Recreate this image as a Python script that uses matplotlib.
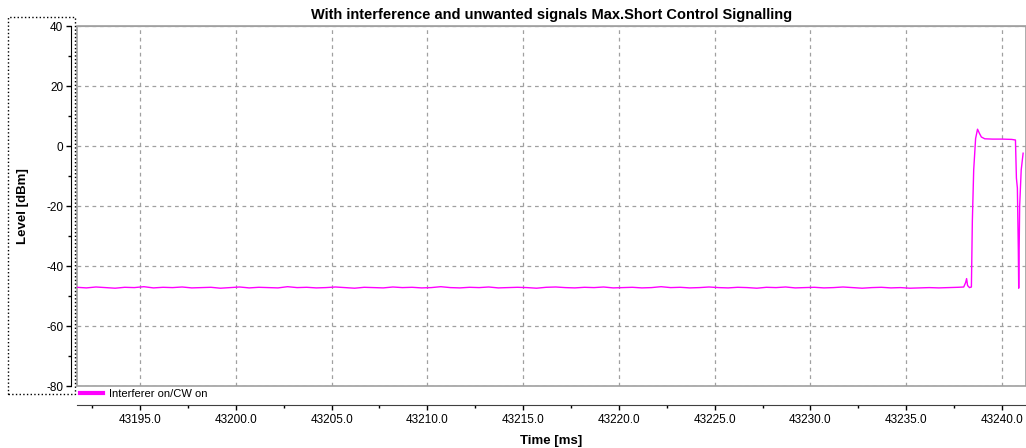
import numpy as np
import matplotlib
matplotlib.use("Agg")
import matplotlib.pyplot as plt
from matplotlib.patches import Rectangle
from matplotlib.ticker import MultipleLocator, FormatStrFormatter

plt.rcParams["font.family"] = ["Liberation Sans", "DejaVu Sans"]
plt.rcParams["axes.unicode_minus"] = False

# baseline samples every 0.5 ms before the burst
base_start = 43191.7
base_step = 0.5
base_levels = [
    -47.1, -47.3, -47.0, -47.2, -47.4, -47.1, -47.2, -46.9, -47.3, -47.1,
    -47.2, -47.0, -47.3, -47.2, -47.1, -47.4, -47.2, -47.0, -47.3, -47.1,
    -47.2, -47.3, -46.9, -47.2, -47.1, -47.3, -47.2, -47.0, -47.2, -47.4,
    -47.1, -47.2, -47.3, -47.0, -47.2, -47.1, -47.3, -47.2, -46.9, -47.2,
    -47.3, -47.1, -47.2, -47.0, -47.3, -47.2, -47.1, -47.2, -47.4, -47.1,
    -47.0, -47.2, -47.3, -47.1, -47.2, -47.0, -47.3, -47.2, -47.1, -47.3,
    -47.2, -46.9, -47.2, -47.1, -47.3, -47.2, -47.0, -47.2, -47.3, -47.1,
    -47.2, -47.4, -47.1, -47.2, -47.0, -47.3, -47.2, -47.1, -47.3, -47.2,
    -47.0, -47.2, -47.4, -47.2, -47.1, -47.3, -47.2, -47.4, -47.3, -47.2,
    -47.3, -47.2, -47.1,
]

# burst region
tail_times = [
    43238.0, 43238.1, 43238.15, 43238.2, 43238.3, 43238.4, 43238.45,
    43238.52, 43238.62, 43238.72, 43238.82, 43238.92, 43239.1, 43239.5,
    43240.0, 43240.5, 43240.7, 43240.75, 43240.8, 43240.85, 43240.87,
    43240.92, 43241.0, 43241.1,
]
tail_levels = [
    -47.0, -45.5, -44.2, -46.5, -47.2, -47.0, -25.0,
    -8.0, 2.5, 5.6, 4.2, 3.0, 2.4, 2.3,
    2.3, 2.2, 2.0, -10.7, -14.0, -35.0, -47.4,
    -20.0, -8.0, -2.4,
]

base_times = base_start + base_step * np.arange(len(base_levels))
times = np.concatenate([base_times, tail_times])
levels = np.concatenate([base_levels, tail_levels])

W, H = 1026, 448
PT = 0.72  # points per pixel at 100 dpi
fig = plt.figure(figsize=(W / 100, H / 100), dpi=100)
ax = fig.add_axes([77 / W, 1 - 386 / H, (W - 77) / W, 360 / H])

ax.plot(times, levels, color="#ff00ff", lw=1.0, label="Interferer on/CW on")

ax.set_xlim(43191.71, 43191.71 + (W - 77) / 19.156)
ax.set_ylim(-80, 40)

ax.xaxis.set_major_locator(MultipleLocator(5))
ax.xaxis.set_minor_locator(MultipleLocator(2.5))
ax.xaxis.set_major_formatter(FormatStrFormatter("%.1f"))
ax.yaxis.set_major_locator(MultipleLocator(20))
ax.yaxis.set_minor_locator(MultipleLocator(10))

ax.grid(True, which="major", color="#a0a0a0", ls=(0, (3, 3)), lw=0.9)

for s in ["top", "right"]:
    ax.spines[s].set_color("#a0a0a0")
ax.spines["left"].set_position(("outward", 6 * PT))
ax.spines["bottom"].set_position(("outward", 19 * PT))
ax.spines["left"].set_color("black")
ax.spines["bottom"].set_color("#404040")
ax.add_patch(Rectangle((0, 0), 1, 1, transform=ax.transAxes, fill=False,
                       edgecolor="#a0a0a0", lw=1.2, clip_on=False))

ax.tick_params(axis="both", which="major", labelsize=8.5, length=5 * PT, width=1)
ax.tick_params(axis="both", which="minor", length=3 * PT, width=1)
ax.tick_params(axis="x", pad=3)
ax.tick_params(axis="y", pad=2)

ax.set_title("With interference and unwanted signals Max.Short Control Signalling",
             fontsize=10.5, fontweight="bold", pad=5)
ax.set_xlabel("Time [ms]", fontsize=9.5, fontweight="bold", labelpad=6)
ax.set_ylabel("Level [dBm]", fontsize=9.5, fontweight="bold", labelpad=12)

ax.legend(loc="upper left", bbox_to_anchor=(0.0, 0.0), frameon=False,
          fontsize=8, handlelength=2.0, handletextpad=0.6,
          borderaxespad=0.1, borderpad=0.2)
leg = ax.get_legend()
for ln in leg.get_lines():
    ln.set_linewidth(3)

fig.patches.append(Rectangle((8 / W, 1 - 394 / H), 67 / W, 377 / H,
                             transform=fig.transFigure, fill=False,
                             edgecolor="black", ls=":", lw=1.0))

fig.savefig("out.png", dpi=100)
